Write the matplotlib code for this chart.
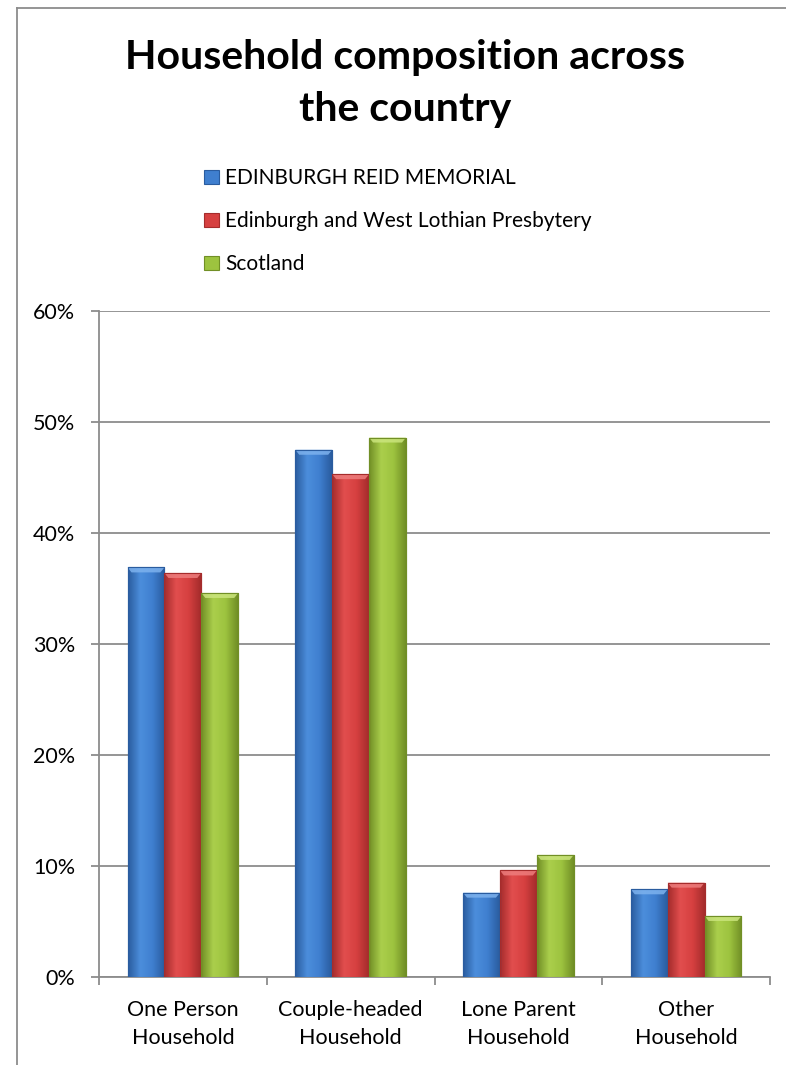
import matplotlib
matplotlib.use("Agg")
import matplotlib.pyplot as plt
import numpy as np
from matplotlib.lines import Line2D
from matplotlib.patches import Polygon
from matplotlib.colors import LinearSegmentedColormap

categories = ["One Person\nHousehold", "Couple-headed\nHousehold", "Lone Parent\nHousehold", "Other\nHousehold"]
series_names = ["EDINBURGH REID MEMORIAL", "Edinburgh and West Lothian Presbytery", "Scotland"]
reid = [36.9, 47.5, 7.6, 7.9]
presbytery = [36.4, 45.3, 9.6, 8.5]
scotland = [34.6, 48.6, 11.0, 5.5]
yticks = [0, 10, 20, 30, 40, 50, 60]

base = ["#3F7FCF", "#D64040", "#9DC33F"]
edge_dark = ["#2A5C9F", "#A52C2C", "#718F26"]
center_light = ["#4C8EDC", "#E24E4E", "#ABCF4C"]
bevel = ["#7DB2EE", "#EE7D7D", "#CBE57D"]
grey = "#8C8C8C"

plt.rcParams['font.family'] = ['Lato', 'DejaVu Sans']

W, H = 786, 1065
fig = plt.figure(figsize=(W/100, H/100), dpi=100)
ax = fig.add_axes([99/W, 1-977/H, (770-99)/W, (977-311)/H])

x = np.arange(len(categories))
w = 0.22
ax.set_xlim(-0.5, 3.5)
ax.set_ylim(0, 60)

# pixel -> data conversions for bevel sizes
px_x = 4.0 / ((770-99) / 4.0)
px_y = 5.0 / ((977-311) / 60.0)

for i, (vals, name) in enumerate(zip([reid, presbytery, scotland], series_names)):
    bars = ax.bar(x + (i-1)*w, vals, width=w, color=base[i], edgecolor=edge_dark[i],
                  linewidth=0.8, label=name, zorder=3)
    cmap = LinearSegmentedColormap.from_list("g%d" % i, [edge_dark[i], center_light[i], base[i], edge_dark[i]])
    grad = np.linspace(0, 1, 64).reshape(1, -1)
    for b in bars:
        x0, x1 = b.get_x(), b.get_x() + b.get_width()
        h = b.get_height()
        im = ax.imshow(grad, cmap=cmap, extent=(x0, x1, 0, h), aspect="auto", zorder=3.1,
                       interpolation="bicubic")
        im.set_clip_path(b)
        top = Polygon([(x0, h), (x1, h), (x1 - px_x, h - px_y), (x0 + px_x, h - px_y)],
                      closed=True, facecolor=bevel[i], edgecolor="none", zorder=3.2, alpha=0.85)
        ax.add_patch(top)
        outline = plt.Rectangle((x0, 0), x1 - x0, h, fill=False, edgecolor=edge_dark[i],
                                linewidth=0.8, zorder=3.3)
        ax.add_patch(outline)

ax.set_xlim(-0.5, 3.5)
ax.set_ylim(0, 60)
ax.set_yticks(yticks)
ax.set_yticklabels([f"{v}%" for v in yticks], fontsize=15.5)
ax.yaxis.grid(True, color=grey, linewidth=1.3, zorder=0)
ax.set_xticks(x)
ax.set_xticklabels(categories, fontsize=15.5, linespacing=1.5)
ax.set_xticks(np.arange(-0.5, 4.0, 1.0), minor=True)
ax.tick_params(axis='x', which='major', length=0, pad=16.5)
ax.tick_params(axis='x', which='minor', length=5.5, color=grey, width=1.3)
ax.tick_params(axis='y', length=6, color=grey, width=1.3, pad=11)
for s in ["top", "right"]:
    ax.spines[s].set_visible(False)
for s in ["left", "bottom"]:
    ax.spines[s].set_color(grey)
    ax.spines[s].set_linewidth(1.3)

fig.text(405/W, 1-84/H, "Household composition across\nthe country", ha="center", va="center",
         fontsize=29.5, fontweight="bold", linespacing=1.5)

handles = [plt.Rectangle((0, 0), 1, 1, facecolor=base[i], edgecolor=edge_dark[i], linewidth=0.8)
           for i in range(3)]
leg = fig.legend(handles, series_names, loc="upper left", bbox_to_anchor=(196/W, 1-160/H),
                 frameon=False, fontsize=15, handlelength=0.7, handleheight=0.7,
                 handletextpad=0.3, labelspacing=1.1, borderaxespad=0)

# chart frame (left and top edges visible in crop)
fig.add_artist(Line2D([17/W, 17/W], [0, 1-8/H], transform=fig.transFigure, color=grey, linewidth=1.3))
fig.add_artist(Line2D([17/W, 1], [1-8/H, 1-8/H], transform=fig.transFigure, color=grey, linewidth=1.3))

fig.savefig("out.png", dpi=100)
